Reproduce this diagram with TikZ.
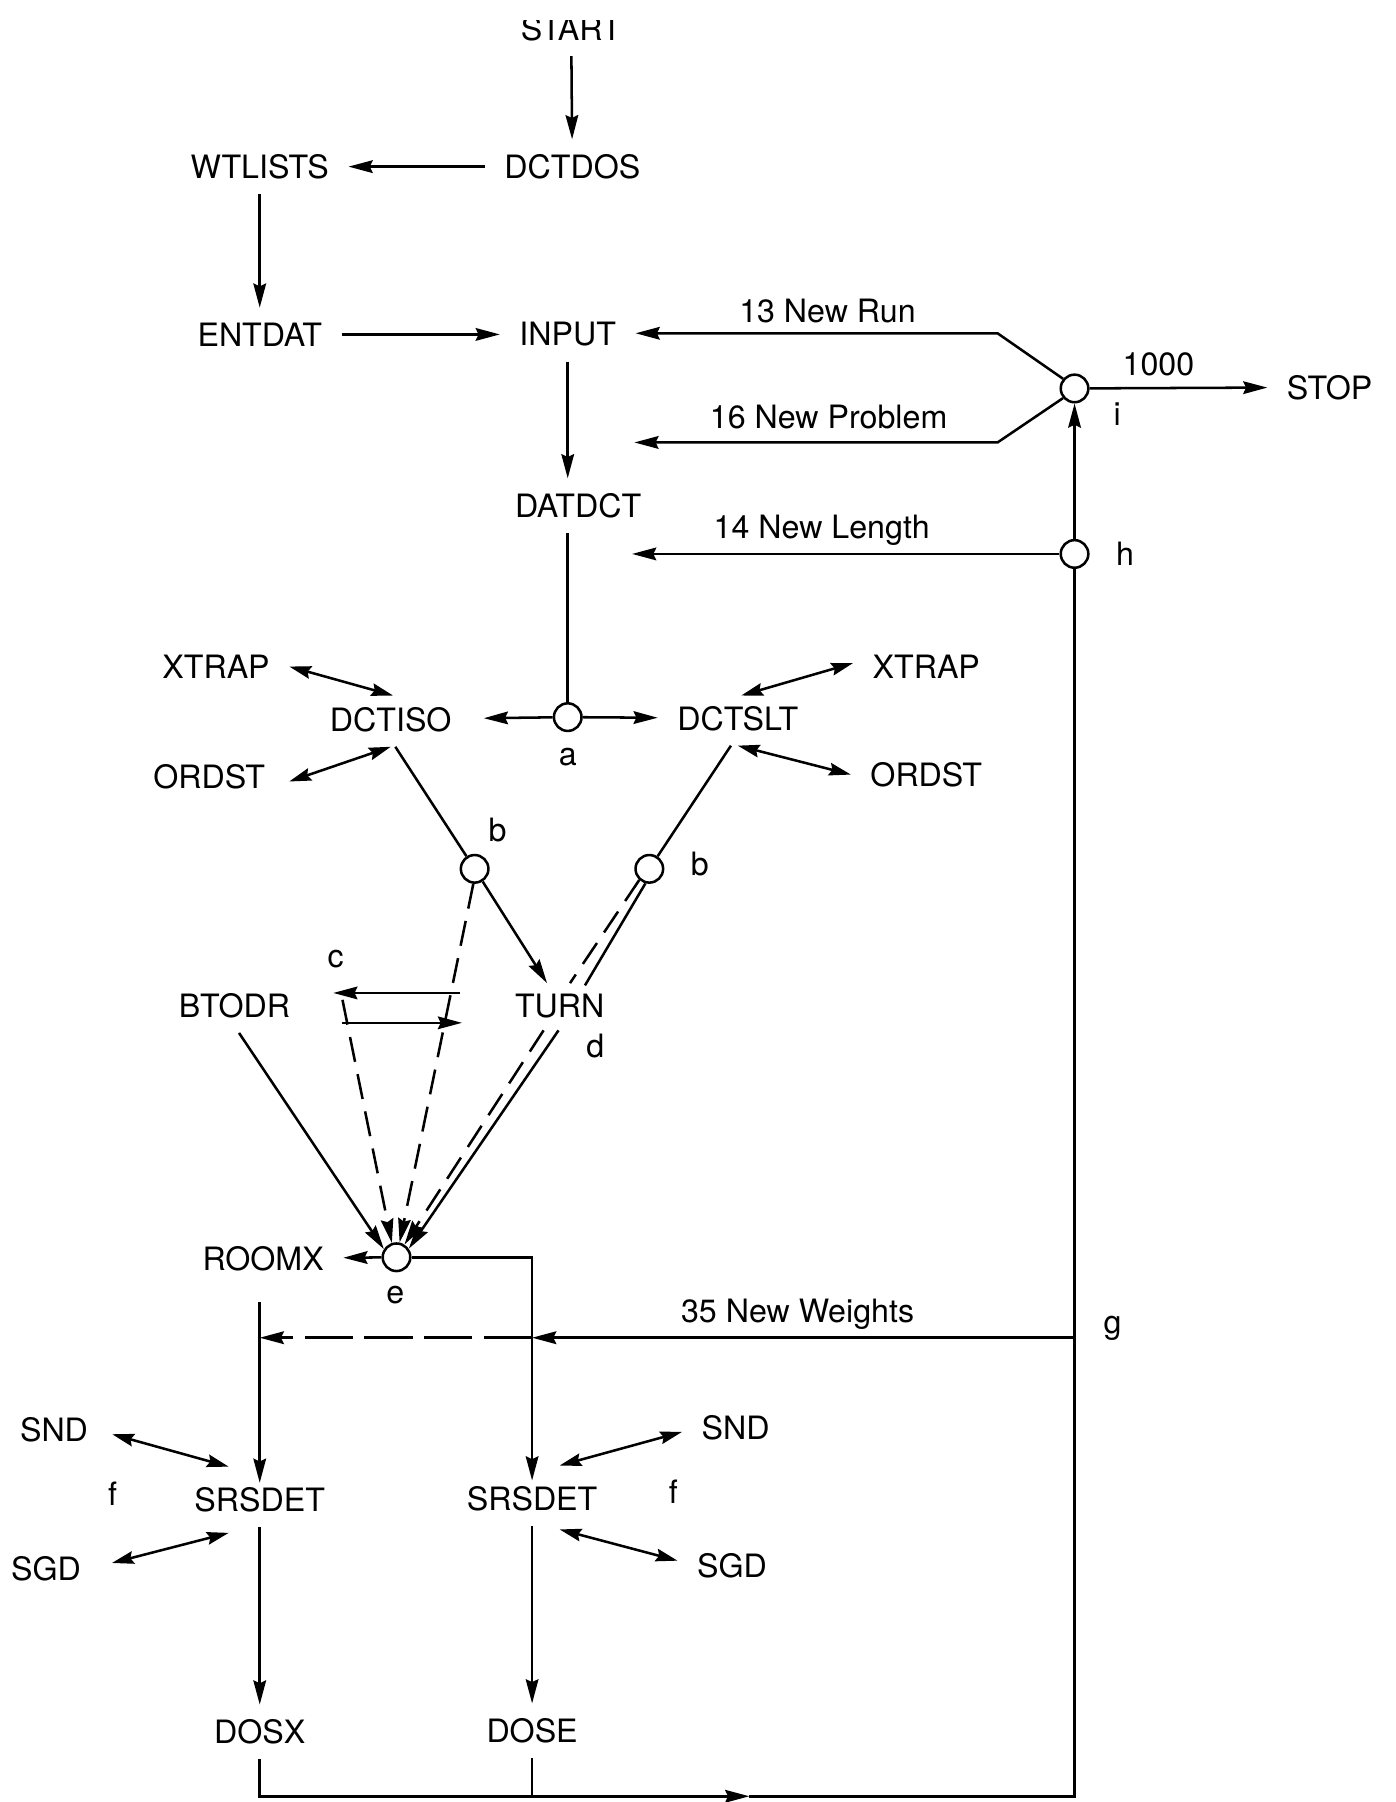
\documentclass[tikz,border=0pt]{standalone}
\usepackage{fontspec}
\setmainfont{TeX Gyre Heros}
\usetikzlibrary{arrows.meta}

\begin{document}
\begin{tikzpicture}[x=1pt, y=-1pt, line width=2.2pt,
    every node/.style={font=\fontsize{28}{32}\selectfont},
    prog/.style={inner xsep=16pt, inner ysep=12pt},
    junc/.style={circle, draw, line width=2.2pt, minimum size=24pt, inner sep=0pt},
    tag/.style={anchor=base, inner sep=0pt},
    arr/.style={-{Stealth[length=21pt,width=11pt,inset=2.5pt]}},
    dbl/.style={{Stealth[length=19pt,width=11pt,inset=2.5pt]}-{Stealth[length=19pt,width=11pt,inset=2.5pt]}},
    dashline/.style={dash pattern=on 22pt off 11pt},
    longdash/.style={dash pattern=on 42pt off 10pt}]
        \useasboundingbox (0,0) rectangle (1214,1568);

        % START, faded at the top edge of the page
        \begin{scope}
            \clip (400,17.5) rectangle (600,60);
            \node[prog] (start) at (497,25) {START};
        \end{scope}

        % Main chain
        \node[prog] (dctdos) at (498,145) {DCTDOS};
        \node[prog] (wtlists) at (226,145) {WTLISTS};
        \node[prog] (entdat) at (226,291) {ENTDAT};
        \node[prog] (input) at (494,291) {INPUT};
        \node[prog] (datdct) at (503,440) {DATDCT};
        \node[junc] (ca) at (494,624) {};

        % Isotropic / slit branches
        \node[prog] (dctiso) at (340,626) {DCTISO};
        \node[prog] (dctslt) at (642,625) {DCTSLT};
        \node[prog] (xtrapL) at (188,580) {XTRAP};
        \node[prog] (ordstL) at (182,676) {ORDST};
        \node[prog] (xtrapR) at (806,580) {XTRAP};
        \node[prog] (ordstR) at (806,674) {ORDST};
        \node[junc] (cbL) at (413,756) {};
        \node[junc] (cbR) at (565,756) {};
        \node[prog] (btodr) at (204,875) {BTODR};
        \node[prog] (turn) at (487,875) {TURN};
        \node[junc] (ce) at (345,1094) {};
        \node[prog] (roomx) at (229,1095) {ROOMX};

        % Detector part
        \node[prog] (srsdetL) at (226,1305) {SRSDET};
        \node[prog] (srsdetR) at (463,1304) {SRSDET};
        \node[prog] (sndL) at (47,1244) {SND};
        \node[prog] (sgdL) at (40,1365) {SGD};
        \node[prog] (sndR) at (640,1242) {SND};
        \node[prog] (sgdR) at (637,1362) {SGD};
        \node[prog] (dosx) at (226,1507) {DOSX};
        \node[prog] (dose) at (463,1506) {DOSE};

        % Return loop
        \node[junc] (ch) at (935,482) {};
        \node[junc] (ci) at (935,338) {};
        \node[prog] (stop) at (1157,337) {STOP};

        \coordinate (runbend) at (868,290);
        \coordinate (probbend) at (868,385);
        \coordinate (probend) at (552,385);
        \coordinate (lenend) at (550,482);
        \coordinate (g) at (935,1164);
        \coordinate (wR) at (463,1164);
        \coordinate (wL) at (226,1164);
        \coordinate (botM) at (652,1563);
        \coordinate (botR) at (935,1563);
        \coordinate (cUpR) at (400,864);
        \coordinate (cUpL) at (290,864);
        \coordinate (cLoL) at (298,890);
        \coordinate (cLoR) at (402,890);
        \coordinate (cdash) at (298,870);

        % Top arrows
        \draw[arr] (start) -- (dctdos);
        \draw[arr] (dctdos) -- (wtlists);
        \draw[arr] (wtlists) -- (entdat);
        \draw[arr] (entdat) -- (input);
        \draw[arr] (input) -- (input |- datdct.north);
        \draw (datdct.south -| ca) -- (ca);
        \draw[arr, shorten >=11pt] (ca) -- (dctiso);
        \draw[arr] (ca) -- (dctslt);

        % Loops back from i and h
        \draw[arr] (ci.140) -- (runbend) -- (runbend -| input.east);
        \draw[arr] (ci.220) -- (probbend) -- (probend);
        \draw[arr] (ch) -- (lenend);
        \draw[arr] (ci) -- (stop);
        \draw[arr] (ch) -- (ci);

        % Subroutine calls
        \draw[dbl] (xtrapL.east) -- ([xshift=2pt,yshift=-3pt]dctiso.north);
        \draw[dbl] ([xshift=4pt,yshift=-4pt]ordstL.east) -- (dctiso.south);
        \draw[dbl] ([xshift=3pt,yshift=-4pt]dctslt.north) -- ([yshift=3pt]xtrapR.west);
        \draw[dbl] (dctslt.south) -- (ordstR.west);

        % Down to b, TURN and e
        \draw ([xshift=4pt]dctiso.south) -- (cbL);
        \draw ([xshift=-6pt]dctslt.south) -- (cbR);
        \draw[arr] (cbL) -- ([xshift=-11pt,yshift=-4pt]turn.north);
        \draw (cbR.255) -- ([xshift=22pt,yshift=-6pt]turn.north);
        \draw[dashline] (cbR.228) -- ([xshift=9pt,yshift=-4pt]turn.north);
        \draw[arr, dashline] ([xshift=-14pt,yshift=2pt]turn.south) -- (ce.58);
        \draw[arr] ([xshift=-1pt,yshift=2pt]turn.south) -- (ce.35);
        \draw[arr, dashline] (cbL.265) -- (ce.78);
        \draw[arr, dashline] (cdash) -- (ce.108);
        \draw[arr] ([xshift=4pt]btodr.south) -- (ce.147);
        \draw[arr] (cUpR) -- (cUpL);
        \draw[arr] (cLoL) -- (cLoR);
        \draw[arr] (ce) -- (roomx);

        % Detectors
        \draw[arr, shorten <=14pt, shorten >=-9pt] (roomx.south -| srsdetL) -- (srsdetL);
        \draw[arr, shorten >=-8pt] (ce) -| (srsdetR);
        \draw[arr] (g) -- (wR);
        \draw[arr, longdash] (wR) -- (wL);
        \draw[dbl] ([xshift=4pt,yshift=-4pt]sndL.east) -- ([xshift=-27pt,yshift=5pt]srsdetL.north);
        \draw[dbl] ([xshift=10pt,yshift=5pt]sgdL.east) -- ([xshift=-27pt,yshift=-5pt]srsdetL.south);
        \draw[dbl] ([xshift=24pt,yshift=5pt]srsdetR.north) -- ([yshift=-4pt]sndR.west);
        \draw[dbl] ([xshift=24pt,yshift=-3pt]srsdetR.south) -- ([yshift=4pt]sgdR.west);
        \draw[arr] (srsdetL) -- (dosx);
        \draw[arr] (srsdetR) -- (dose);

        % Bottom return line
        \draw[arr] (dosx) |- (botM);
        \draw (botM) -- (botR) -- (ch);
        \draw (dose) -- (dose |- botM);

        % Labels
        \node[tag] at (720,281) {13 New Run};
        \node[tag] at (721,373) {16 New Problem};
        \node[tag] at (715,469) {14 New Length};
        \node[tag] at (694,1151) {35 New Weights};
        \node[tag] at (1008,327) {1000};
        \node[tag] at (972,370) {i};
        \node[tag] at (979,492) {h};
        \node[tag] at (968,1160) {g};
        \node[tag] at (494,666) {a};
        \node[tag] at (433,732) {b};
        \node[tag] at (609,762) {b};
        \node[tag] at (292,842) {c};
        \node[tag] at (518,920) {d};
        \node[tag] at (344,1134) {e};
        \node[tag] at (98,1310) {f};
        \node[tag] at (586,1308) {f};

    \end{tikzpicture}
\end{document}
